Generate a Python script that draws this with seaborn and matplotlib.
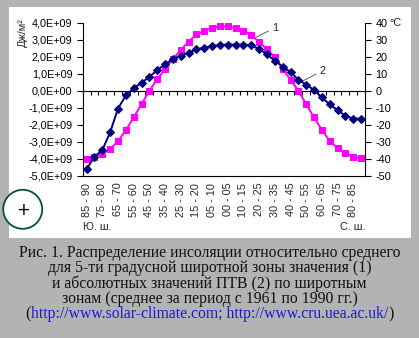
import numpy as np
import pandas as pd
import matplotlib
matplotlib.use("Agg")
import matplotlib.pyplot as plt
import seaborn as sns
from matplotlib.patches import Rectangle, Ellipse

# ---------------- data ----------------
zones = ["85 - 90", "80 - 85", "75 - 80", "70 - 75", "65 - 70", "60 - 65", "55 - 60", "50 - 55",
         "45 - 50", "40 - 45", "35 - 40", "30 - 35", "25 - 30", "20 - 25", "15 - 20", "10 - 15",
         "05 - 10", "00 - 05",
         "00 - 05", "05 - 10", "10 - 15", "15 - 20", "20 - 25", "25 - 30", "30 - 35", "35 - 40",
         "40 - 45", "45 - 50", "50 - 55", "55 - 60", "60 - 65", "65 - 70", "70 - 75", "75 - 80",
         "80 - 85", "85 - 90"]
# (1) insolation relative to mean, J/m^2 (x 1e9)
insolation = [-4.00, -3.90, -3.70, -3.45, -2.96, -2.33, -1.57, -0.80, 0.00, 0.67, 1.25, 1.87,
              2.39, 2.88, 3.32, 3.50, 3.71, 3.79, 3.79, 3.67, 3.53, 3.29, 2.86, 2.43,
              1.98, 1.28, 0.65, 0.00, -0.79, -1.57, -2.31, -2.95, -3.39, -3.66, -3.88, -3.98]
# (2) absolute surface air temperature, deg C
temperature = [-46.2, -38.8, -34.9, -24.5, -10.5, -2.8, 1.5, 4.6, 8.2, 12.0, 15.7, 18.5,
               20.5, 22.4, 24.3, 25.3, 26.3, 26.9, 27.1, 27.1, 27.1, 26.7, 24.5, 21.4,
               17.6, 14.2, 11.0, 6.5, 3.6, 0.4, -4.0, -8.1, -11.4, -14.8, -16.4, -16.4]
left_ticks = [-5e9, -4e9, -3e9, -2e9, -1e9, 0, 1e9, 2e9, 3e9, 4e9]
right_ticks = [-50, -40, -30, -20, -10, 0, 10, 20, 30, 40]

caption = ["Рис. 1. Распределение инсоляции относительно среднего",
           "для 5-ти градусной широтной зоны значения (1)",
           "и абсолютных значений ПТВ (2) по широтным",
           "зонам (среднее за период с 1961 по 1990 гг.)"]
links = "http://www.solar-climate.com; http://www.cru.uea.ac.uk/"

df = pd.DataFrame({"idx": np.arange(len(zones)),
                   "ins": np.array(insolation) * 1e9,
                   "temp": temperature})

# ---------------- figure ----------------
W, H = 419, 338
sns.set_theme(style="white")
plt.rcParams["font.family"] = ["Liberation Sans", "DejaVu Sans"]
GRAY = "#b3b3b3"
fig = plt.figure(figsize=(W / 100, H / 100), dpi=100, facecolor=GRAY)

def fx(px):
    return px / W

def fy(py):
    return 1 - py / H

# white panel
fig.patches.append(Rectangle((fx(9), fy(238)), fx(410.5) - fx(9), fy(7.5) - fy(238),
                             transform=fig.transFigure, facecolor="white", edgecolor="none",
                             zorder=-5))

L, R, T, B = 82.7, 365.0, 22.7, 175.7
ax = fig.add_axes([fx(L), fy(B), fx(R) - fx(L), fy(T) - fy(B)])
ax.set_facecolor("white")
ax2 = ax.twinx()

MAG = "#ff00ff"
NAVY = "#000080"
sns.lineplot(data=df, x="idx", y="ins", ax=ax, color=MAG, marker="s", markersize=4.2,
             markeredgecolor=MAG, linewidth=1.4, zorder=3)
sns.lineplot(data=df, x="idx", y="temp", ax=ax2, color=NAVY, marker="D", markersize=3.7,
             markeredgecolor=NAVY, linewidth=1.4, zorder=3)

ax.set_xlim(-0.5, len(zones) - 0.5)
ax.set_ylim(-5e9, 4e9)
ax2.set_ylim(-50, 40)

ax.set_xlabel("")
ax.set_ylabel("")
ax2.set_ylabel("")

ax.set_yticks(left_ticks)
ax.set_yticklabels([f"{v:.1E}".replace(".", ",") for v in left_ticks], fontsize=7.8)
ax2.set_yticks(right_ticks)
ax2.set_yticklabels([str(v) for v in right_ticks], fontsize=7.8)

even = list(range(0, len(zones), 2))
ax.set_xticks(even)
ax.set_xticklabels([zones[i] for i in even], rotation=90, fontsize=7.8, va="top")
ax.tick_params(axis="x", length=0, pad=5)
ax.tick_params(axis="y", direction="out", length=4.5, width=0.8, color="black", pad=3,
               left=True, labelcolor="black")
ax2.tick_params(axis="y", direction="out", length=4.5, width=0.8, color="black", pad=3,
                right=True, labelcolor="black")

for a in (ax, ax2):
    a.grid(False)
    a.spines["top"].set_visible(False)
    for s in ("left", "right", "bottom"):
        a.spines[s].set_color("black")
        a.spines[s].set_linewidth(0.8)
ax.spines["right"].set_visible(False)
ax2.spines["left"].set_visible(False)
ax2.spines["bottom"].set_visible(False)

# zero line with category-boundary ticks
sec = ax.secondary_xaxis(0, transform=ax.transData)
sec.set_xticks(np.arange(-0.5, len(zones), 1.0))
sec.tick_params(axis="x", direction="out", length=3, width=0.8, color="black",
                labelbottom=False, labeltop=False)
sec.spines["bottom"].set_color("black")
sec.spines["bottom"].set_linewidth(0.8)

# series labels with leader lines
ax.annotate("1", xy=(21.6, 3.14e9), xytext=(23.6, 3.7e9), fontsize=7.8, ha="left",
            va="center", arrowprops=dict(arrowstyle="-", color="#444444", lw=0.6,
                                         shrinkA=0, shrinkB=0))
ax.annotate("2", xy=(27.4, 0.53e9), xytext=(29.7, 1.18e9), fontsize=7.8, ha="left",
            va="center", arrowprops=dict(arrowstyle="-", color="#444444", lw=0.6,
                                         shrinkA=0, shrinkB=0))

# axis unit labels
fig.text(fx(22.5), fy(33), "Дж/м²", rotation=90, ha="center", va="center", fontsize=7.8)
fig.text(fx(389), fy(22.7), "°C", ha="left", va="center", fontsize=7.8)
fig.text(fx(82.7), fy(227), "Ю. ш.", ha="left", va="center", fontsize=7.8)
fig.text(fx(365), fy(227), "С. ш.", ha="right", va="center", fontsize=7.8)

# round "+" button
fig.patches.append(Ellipse((fx(22.7), fy(209.3)), 39 / W, 39 / H, transform=fig.transFigure,
                           facecolor="white", edgecolor="#0b4a46", linewidth=1.3, zorder=5))
fig.text(fx(22.7), fy(209.8), "+", ha="center", va="center", fontsize=12, color="black",
         zorder=6, family=["DejaVu Sans"])

# caption
SERIF = ["Liberation Serif", "DejaVu Serif"]
CFS = 11.3
ys = [253.3, 268.3, 283.6, 299.0, 314.3]
for line, y in zip(caption, ys):
    fig.text(0.5, fy(y), line, ha="center", va="center", fontsize=CFS, family=SERIF,
             color="#111111")

fig.canvas.draw()
rend = fig.canvas.get_renderer()
parts = [("(", "#111111"), (links, "#1a1ad0"), (")", "#111111")]
objs = []
for s, c in parts:
    t = fig.text(0, fy(ys[4]), s, ha="left", va="center", fontsize=CFS, family=SERIF, color=c)
    objs.append(t)
widths = [t.get_window_extent(rend).width for t in objs]
x0 = W / 2 - sum(widths) / 2
for t, w in zip(objs, widths):
    t.set_x(fx(x0))
    x0 += w

fig.savefig("out.png", dpi=100, facecolor=GRAY)
